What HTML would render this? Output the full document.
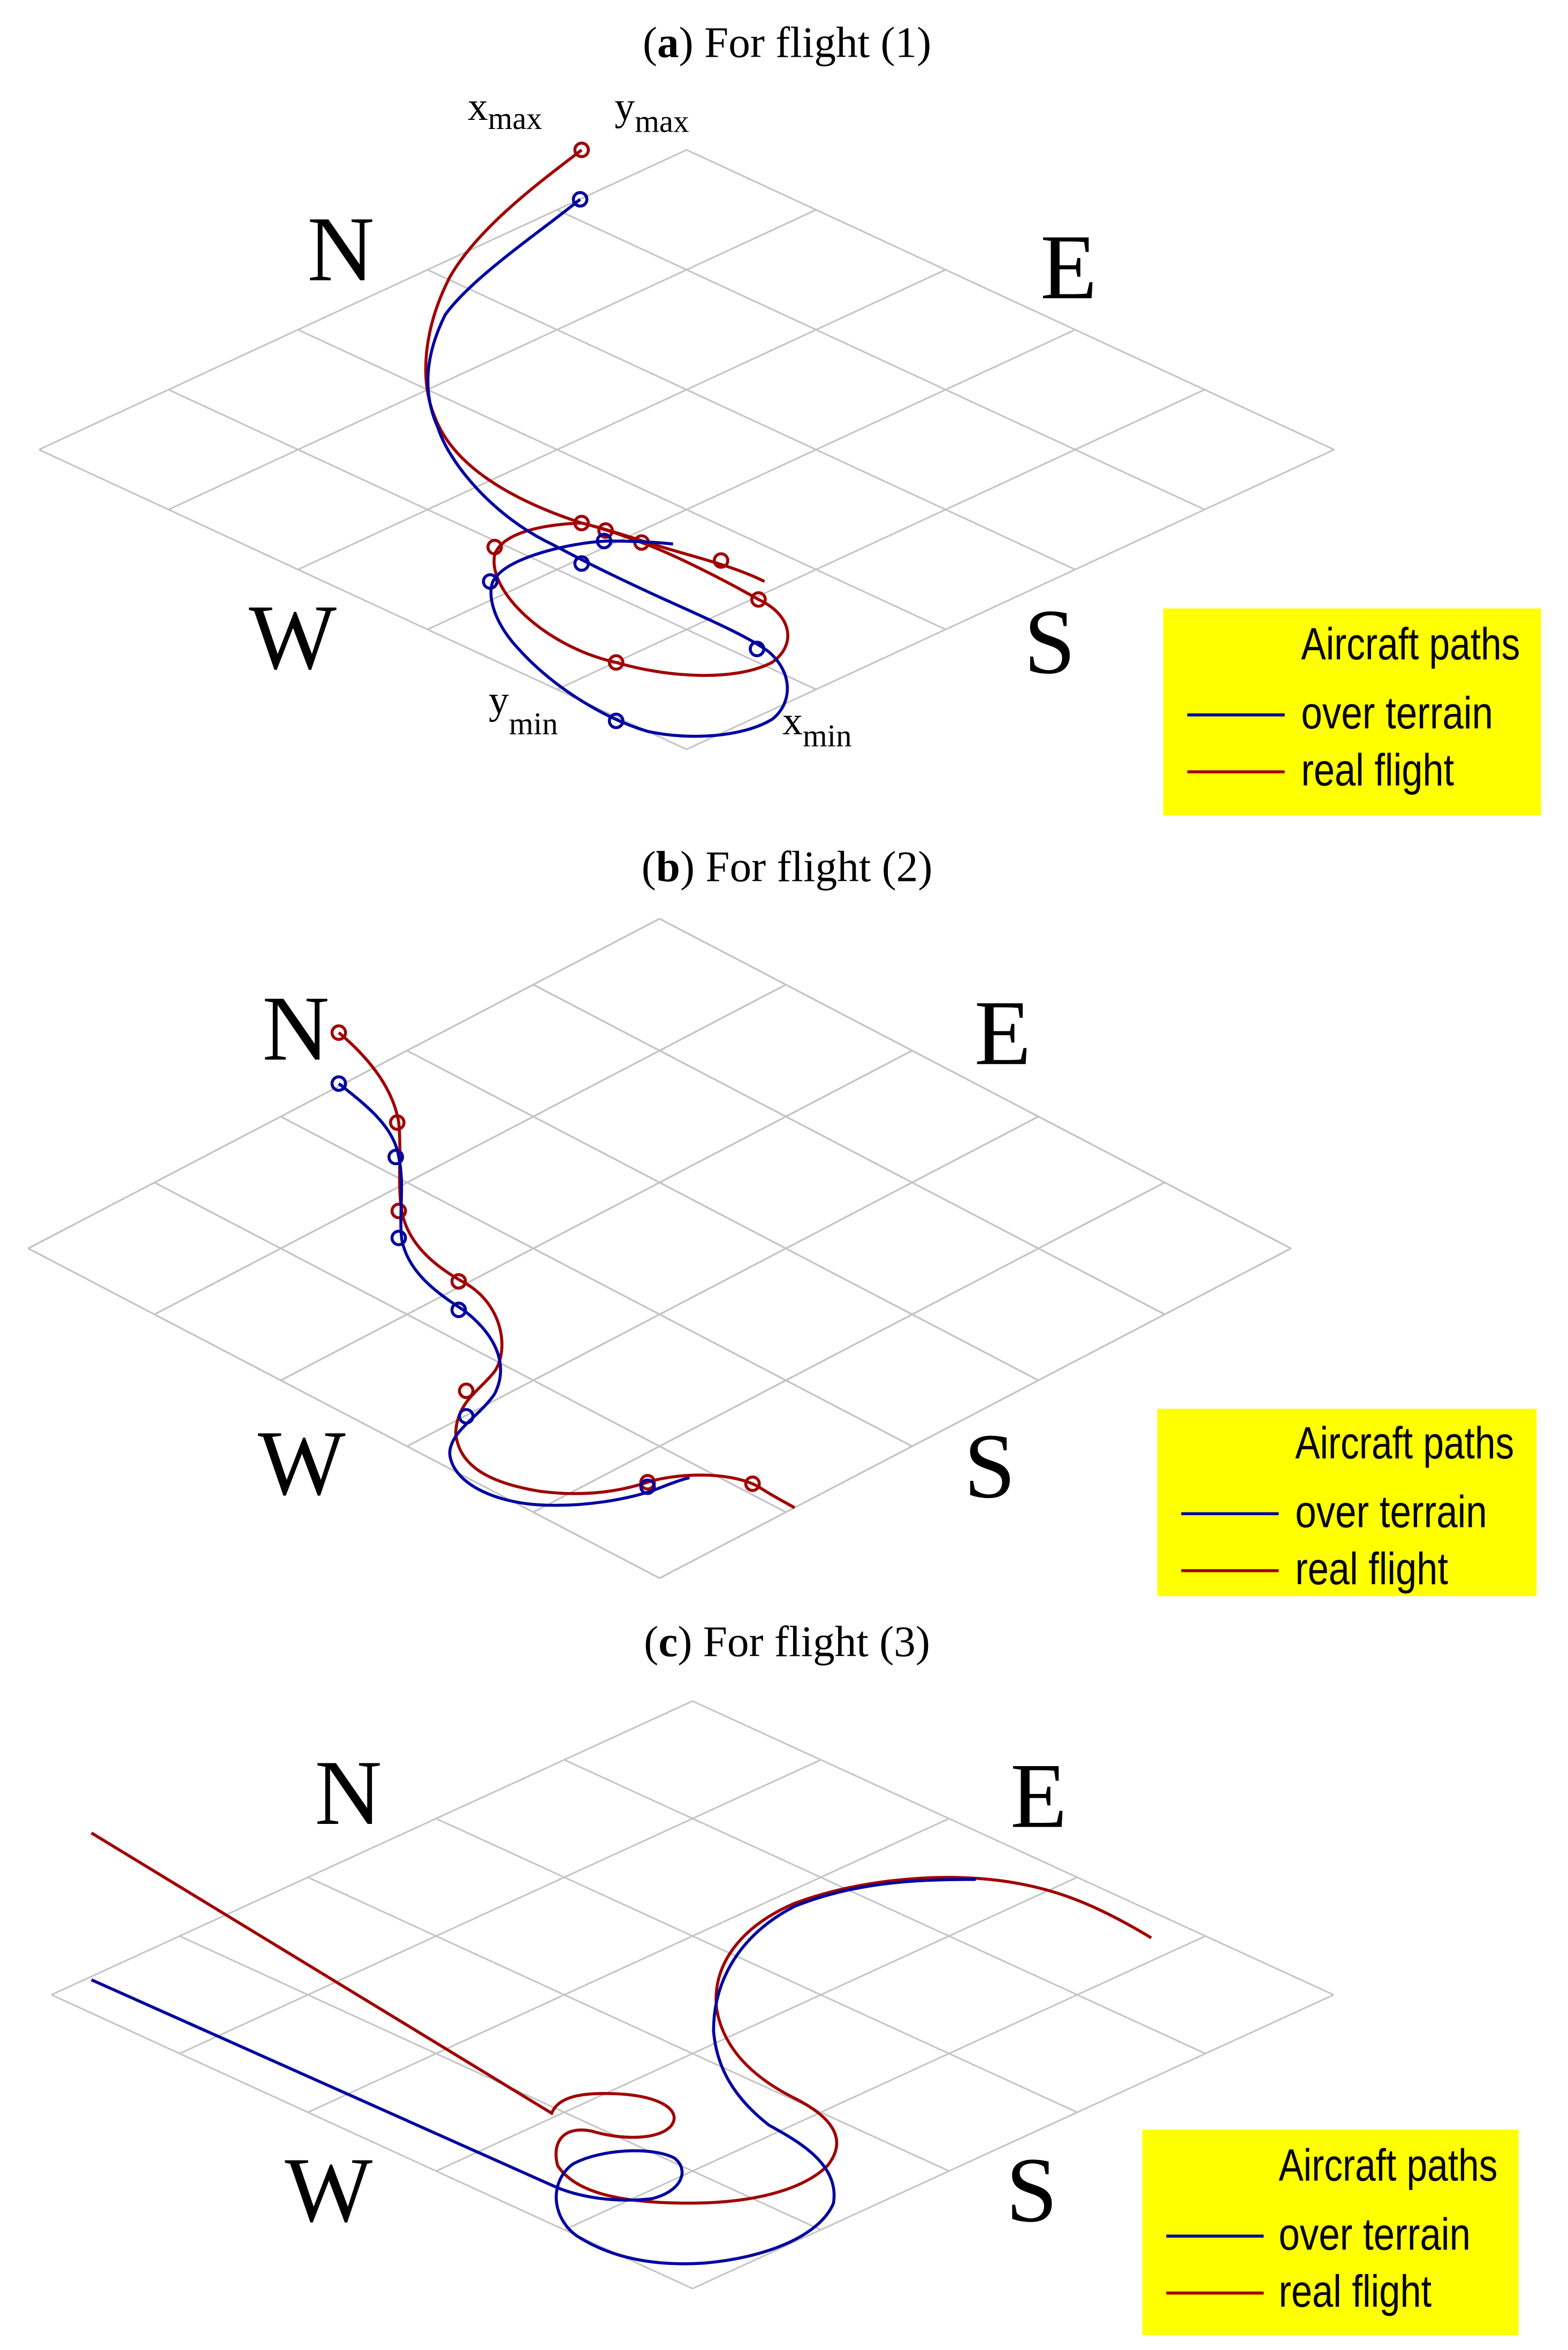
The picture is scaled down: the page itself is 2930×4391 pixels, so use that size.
<!DOCTYPE html>
<html><head><meta charset="utf-8"><style>
html,body{margin:0;padding:0;background:#fff;}
svg{display:block;}
.t{font-family:"Liberation Serif",serif;font-size:29px;fill:#000;}
.big{font-family:"Liberation Serif",serif;font-size:62px;fill:#000;}
.lg{font-family:"Liberation Sans",sans-serif;font-size:30px;fill:#000;}
.lab{font-family:"Liberation Serif",serif;font-size:27px;fill:#000;}
.sub{font-family:"Liberation Serif",serif;font-size:21px;}
.r{fill:none;stroke:#a00000;stroke-width:2;}
.b{fill:none;stroke:#0000a0;stroke-width:2;}
</style></head><body>
<svg width="2930" height="4391" viewBox="0 0 1046 1568" preserveAspectRatio="none" xmlns="http://www.w3.org/2000/svg">
<defs>
<g id="grid" fill="none" stroke="#c4c4c4" stroke-width="1.1">
<path d="M-432 0L0 200M-345.6 -40L86.4 160M-259.2 -80L172.8 120M-172.8 -120L259.2 80M-86.4 -160L345.6 40M0 -200L432 0
M-432 0L0 -200M-345.6 40L86.4 -160M-259.2 80L172.8 -120M-172.8 120L259.2 -80M-86.4 160L345.6 -40M0 200L432 0"/>
</g>
</defs>

<!-- Panel a -->
<text class="t" x="525" y="38" text-anchor="middle">(<tspan font-weight="bold">a</tspan>) For flight (1)</text>
<use href="#grid" transform="translate(458,300)"/>
<text class="big" x="205" y="187">N</text>
<text class="big" x="694" y="199">E</text>
<text class="big" x="166" y="446">W</text>
<text class="big" x="683" y="449">S</text>
<text class="lab" x="312" y="80">x<tspan class="sub" dy="6">max</tspan></text>
<text class="lab" x="410" y="80">y<tspan class="sub" dy="8">max</tspan></text>
<text class="lab" x="326" y="476">y<tspan class="sub" dy="14">min</tspan></text>
<text class="lab" x="522" y="490">x<tspan class="sub" dy="8">min</tspan></text>
<path class="r" d="M388 100 C365 118 320 150 300 185 C282 220 280 255 290 278 C300 305 330 330 388 349"/>
<path class="r" d="M388 349 C405 353 425 360 445 366 C465 372 490 378 510 388"/>
<path class="r" d="M388 349 C360 350 335 356 330 370 C325 395 365 432 411 442 C445 452 490 455 515 442 C532 430 528 410 506 400 C485 388 450 370 428 362 C415 357 400 352 388 349"/>
<g class="r"><circle cx="388" cy="100" r="4.5"/><circle cx="388" cy="349" r="4.5"/><circle cx="404" cy="354" r="4.5"/><circle cx="428" cy="362" r="4.5"/><circle cx="481" cy="374" r="4.5"/><circle cx="506" cy="400" r="4.5"/><circle cx="411" cy="442" r="4.5"/><circle cx="330" cy="365" r="4.5"/></g>
<path class="b" d="M387 133 C360 155 315 185 297 210 C282 240 283 265 292 285 C300 310 330 345 368 363 C385 372 400 380 439 398 C470 412 500 425 513 435 C530 450 528 470 515 480 C495 492 460 494 432 488 C405 480 370 460 345 432 C325 410 325 390 331 385 C340 372 380 362 405 361 C425 361 440 362 449 363"/>
<g class="b"><circle cx="387" cy="133" r="4.5"/><circle cx="388" cy="376" r="4.5"/><circle cx="403" cy="361" r="4.5"/><circle cx="327" cy="388" r="4.5"/><circle cx="505" cy="433" r="4.5"/><circle cx="411" cy="481" r="4.5"/></g>
<rect x="776" y="406" width="252" height="138" fill="#ffff00"/>
<text class="lg" x="868" y="440" textLength="146" lengthAdjust="spacingAndGlyphs">Aircraft paths</text>
<line x1="792" y1="477" x2="857" y2="477" stroke="#0000a0" stroke-width="2"/>
<text class="lg" x="868" y="486" textLength="128" lengthAdjust="spacingAndGlyphs">over terrain</text>
<line x1="792" y1="515" x2="857" y2="515" stroke="#a00000" stroke-width="2"/>
<text class="lg" x="868" y="524" textLength="102" lengthAdjust="spacingAndGlyphs">real flight</text>

<!-- Panel b -->
<text class="t" x="525" y="588" text-anchor="middle">(<tspan font-weight="bold">b</tspan>) For flight (2)</text>
<use href="#grid" transform="translate(440,833) scale(0.975,1.1)"/>
<text class="big" x="175" y="707">N</text>
<text class="big" x="650" y="710">E</text>
<text class="big" x="172" y="997">W</text>
<text class="big" x="643" y="999">S</text>
<path class="r" d="M226 689 C245 705 262 725 266 749 C268 770 265 790 268 808 C272 830 290 845 310 856 C335 870 340 900 330 915 C320 928 305 935 304 956 C306 980 330 990 360 995 C390 999 415 995 435 988 C460 982 490 983 506 992 C515 998 525 1003 530 1006"/>
<g class="r"><circle cx="226" cy="689" r="4.5"/><circle cx="265" cy="749" r="4.5"/><circle cx="266" cy="808" r="4.5"/><circle cx="306" cy="855" r="4.5"/><circle cx="311" cy="928" r="4.5"/><circle cx="432" cy="989" r="4.5"/><circle cx="502" cy="990" r="4.5"/></g>
<path class="b" d="M226 723 C245 738 263 752 266 772 C270 790 266 810 268 827 C272 848 290 862 309 874 C330 890 340 910 330 930 C320 945 300 955 300 970 C302 990 330 1002 358 1004 C390 1006 420 1000 437 994 C447 990 455 987 460 986"/>
<g class="b"><circle cx="226" cy="723" r="4.5"/><circle cx="264" cy="772" r="4.5"/><circle cx="266" cy="826" r="4.5"/><circle cx="306" cy="874" r="4.5"/><circle cx="311" cy="945" r="4.5"/><circle cx="432" cy="992" r="4.5"/></g>
<rect x="772" y="940" width="253" height="125" fill="#ffff00"/>
<text class="lg" x="864" y="973" textLength="146" lengthAdjust="spacingAndGlyphs">Aircraft paths</text>
<line x1="788" y1="1010" x2="853" y2="1010" stroke="#0000a0" stroke-width="2"/>
<text class="lg" x="864" y="1019" textLength="128" lengthAdjust="spacingAndGlyphs">over terrain</text>
<line x1="788" y1="1048" x2="853" y2="1048" stroke="#a00000" stroke-width="2"/>
<text class="lg" x="864" y="1057" textLength="102" lengthAdjust="spacingAndGlyphs">real flight</text>

<!-- Panel c -->
<text class="t" x="525" y="1105" text-anchor="middle">(<tspan font-weight="bold">c</tspan>) For flight (3)</text>
<use href="#grid" transform="translate(462,1331) scale(0.99,0.98)"/>
<text class="big" x="210" y="1217">N</text>
<text class="big" x="674" y="1219">E</text>
<text class="big" x="190" y="1482">W</text>
<text class="big" x="671" y="1482">S</text>
<path class="r" d="M61 1223 L368 1410 C372 1400 385 1396 410 1397 C440 1398 455 1408 448 1418 C440 1428 415 1428 395 1422 C375 1418 368 1430 372 1445 C385 1465 420 1470 460 1470 C500 1470 535 1462 552 1445 C568 1425 550 1410 530 1400 C500 1385 482 1365 478 1340 C475 1310 495 1285 530 1270 C570 1255 620 1250 660 1254 C700 1258 730 1270 768 1293"/>
<path class="b" d="M61 1321 L368 1458 C385 1466 410 1470 435 1467 C455 1462 460 1448 450 1440 C435 1432 400 1434 382 1444 C366 1456 368 1480 385 1492 C410 1508 440 1512 470 1510 C515 1506 548 1490 556 1470 C560 1445 535 1430 513 1418 C490 1400 478 1380 476 1355 C476 1320 495 1290 530 1272 C570 1256 610 1254 651 1254"/>
<rect x="762" y="1421" width="251" height="137" fill="#ffff00"/>
<text class="lg" x="853" y="1455" textLength="146" lengthAdjust="spacingAndGlyphs">Aircraft paths</text>
<line x1="778" y1="1492" x2="843" y2="1492" stroke="#0000a0" stroke-width="2"/>
<text class="lg" x="853" y="1501" textLength="128" lengthAdjust="spacingAndGlyphs">over terrain</text>
<line x1="778" y1="1530" x2="843" y2="1530" stroke="#a00000" stroke-width="2"/>
<text class="lg" x="853" y="1539" textLength="102" lengthAdjust="spacingAndGlyphs">real flight</text>
</svg>
</body></html>
